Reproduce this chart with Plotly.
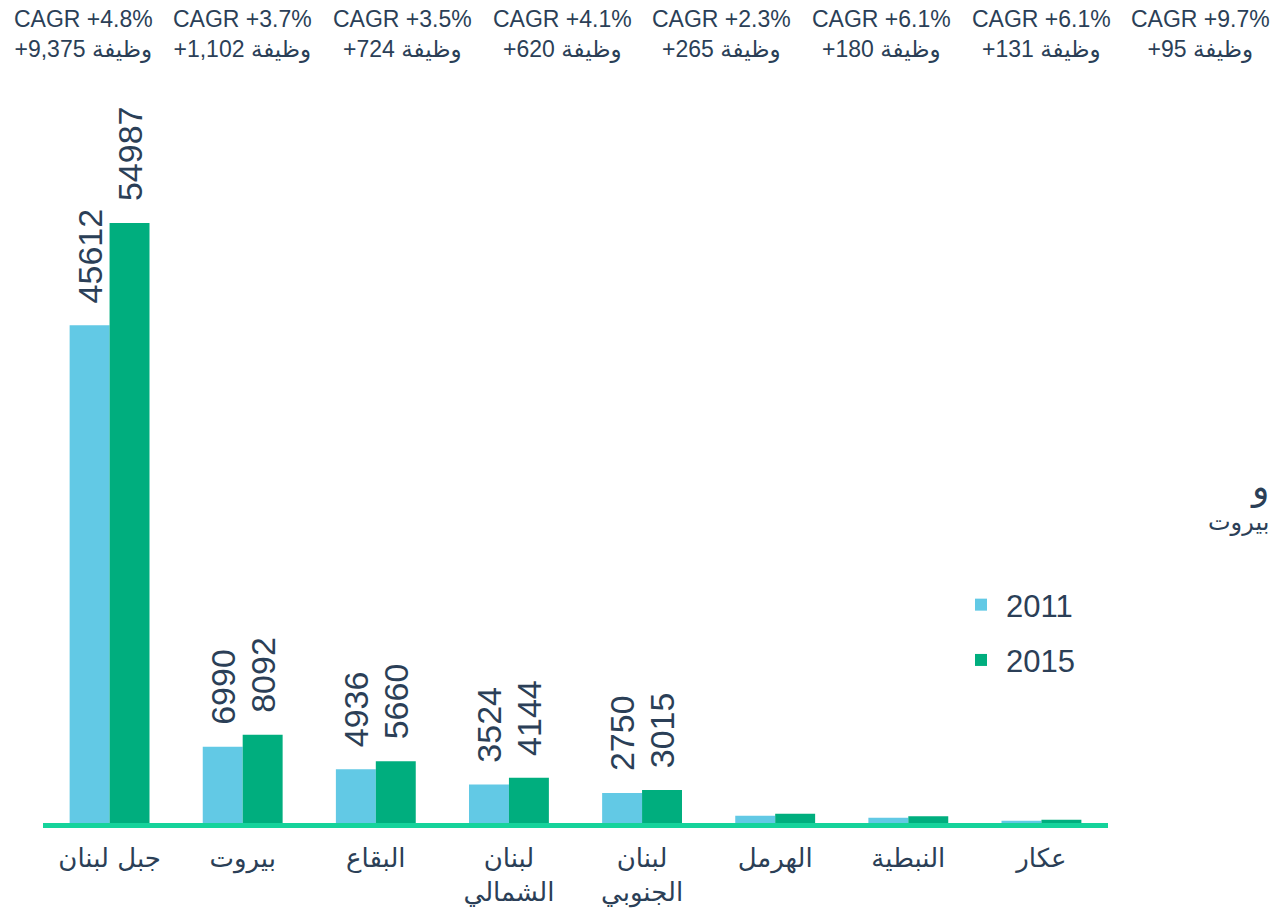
import plotly.graph_objects as go

# ---- data ----
regions = ["جبل لبنان", "بيروت", "البقاع", "لبنان الشمالي", "لبنان الجنوبي", "الهرمل", "النبطية", "عكار"]
tick_labels = ["جبل لبنان", "بيروت", "البقاع", "لبنان<br>الشمالي", "لبنان<br>الجنوبي", "الهرمل", "النبطية", "عكار"]
jobs_2011 = [45612, 6990, 4936, 3524, 2750, 673, 490, 212]
jobs_2015 = [54987, 8092, 5660, 4144, 3015, 853, 621, 307]
labelled = [True, True, True, True, True, False, False, False]
cagr = ["+4.8%", "+3.7%", "+3.5%", "+4.1%", "+2.3%", "+6.1%", "+6.1%", "+9.7%"]
job_change = ["+9,375", "+1,102", "+724", "+620", "+265", "+180", "+131", "+95"]

# ---- style ----
W, H = 1272, 912
ML, MR, MT, MB = 43, 164, 100, 89
TEXT = "#2b3f57"
C2011 = "#62c9e5"
C2015 = "#00ae7e"
BASE = "#15d39b"
FONT = "Liberation Sans, Arial, DejaVu Sans, sans-serif"

plot_w = W - ML - MR
plot_h = H - MT - MB
ymax = 66258


def px_to_paper_x(px):
    return (px - ML) / plot_w


def px_to_paper_y(py):
    return (H - MB - py) / plot_h


def lbl(vals):
    return ["\u00a0\u00a0" + str(v) if s else "" for v, s in zip(vals, labelled)]


fig = go.Figure()
for name, vals, col in [("2011", jobs_2011, C2011), ("2015", jobs_2015, C2015)]:
    fig.add_trace(go.Bar(
        name=name, x=regions, y=vals, marker_color=col, marker_line_width=0,
        legendgroup=name,
        text=lbl(vals), textposition="outside", textangle=-90, constraintext="none",
        cliponaxis=False, textfont=dict(size=34, color=TEXT, family=FONT),
    ))

# top row of CAGR / job-change notes
for i, (c, j) in enumerate(zip(cagr, job_change)):
    fig.add_annotation(
        xref="paper", yref="paper",
        x=px_to_paper_x(83 + i * 159.7), y=px_to_paper_y(34),
        text=f"CAGR {c}<br>{j} وظيفة", showarrow=False,
        xanchor="center", yanchor="middle", align="center",
        font=dict(size=23, color=TEXT, family=FONT),
    )

# side text at right edge
fig.add_annotation(
    xref="paper", yref="paper",
    x=px_to_paper_x(1271), y=px_to_paper_y(501),
    text="<span style='font-size:36px'>و</span><br>بيروت", showarrow=False,
    xanchor="right", yanchor="middle", align="right",
    font=dict(size=24, color=TEXT, family="DejaVu Sans, sans-serif"),
)

fig.update_layout(
    width=W, height=H,
    margin=dict(l=ML, r=MR, t=MT, b=MB, autoexpand=False),
    paper_bgcolor="white", plot_bgcolor="white",
    barmode="group", bargap=0.4, bargroupgap=0,
    font=dict(family=FONT, color=TEXT),
    legend=dict(
        x=px_to_paper_x(956), y=px_to_paper_y(578), xanchor="left", yanchor="top",
        font=dict(size=31, color=TEXT, family=FONT), bgcolor="rgba(0,0,0,0)",
        itemwidth=40, traceorder="grouped", tracegroupgap=12,
    ),
    xaxis=dict(
        tickmode="array", tickvals=regions, ticktext=tick_labels,
        showline=True, linecolor=BASE, linewidth=5, ticks="", showgrid=False,
        tickfont=dict(size=26, color=TEXT, family="DejaVu Sans, sans-serif"),
        ticklabelstandoff=8, automargin=False,
    ),
    yaxis=dict(range=[0, ymax], showgrid=False, zeroline=False, showticklabels=False,
               showline=False, automargin=False),
)

fig.write_html("out.html", config={"displayModeBar": False},
               post_script="document.body.style.margin='0';")
